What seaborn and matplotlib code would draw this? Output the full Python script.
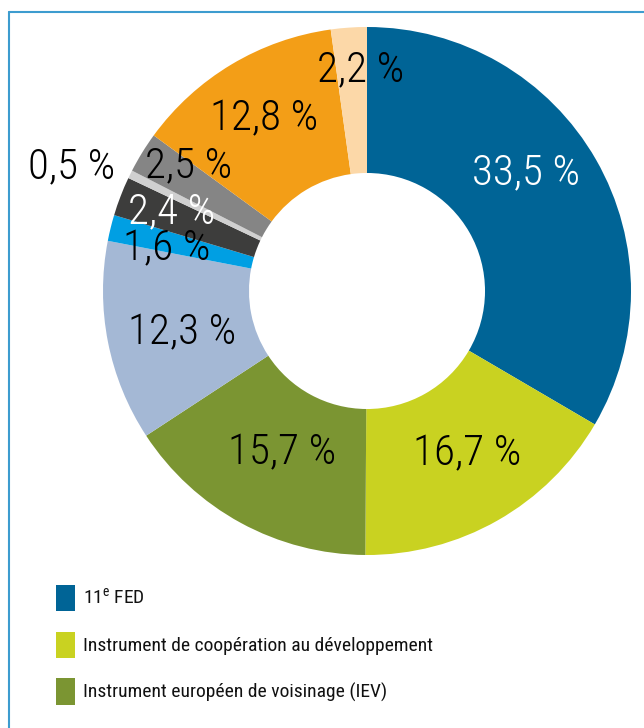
import matplotlib
matplotlib.use("Agg")
import matplotlib.pyplot as plt
from matplotlib.lines import Line2D
import numpy as np
import seaborn as sns

# Shares of the aid envelope (%), clockwise from 12 o'clock
categories = [
    "11e FED",
    "Instrument de coopération au développement",
    "Instrument européen de voisinage (IEV)",
    "Instrument d'aide de préadhésion",
    "Instrument de stabilité",
    "Aide humanitaire",
    "Démocratie et droits de l'homme",
    "Autres instruments",
    "Programmes thématiques",
    "Autres",
]
values = [33.5, 16.7, 15.7, 12.3, 1.6, 2.4, 0.5, 2.5, 12.8, 2.2]
value_labels = ["33,5 %", "16,7 %", "15,7 %", "12,3 %", "1,6 %",
                "2,4 %", "0,5 %", "2,5 %", "12,8 %", "2,2 %"]
legend_labels = ["11$^{\\mathregular{e}}$ FED",
                 "Instrument de coopération au développement",
                 "Instrument européen de voisinage (IEV)"]

colors = ["#006496", "#c9d221", "#7b9532", "#a4b8d5", "#009fe3",
          "#3d3d3c", "#d0d0d0", "#858585", "#f39e17", "#fcd8a8"]
label_colors = ["white", "black", "black", "black", "black",
                "white", "black", "black", "black", "black"]
# label placement: radius (fraction of outer radius) and angular nudge (deg)
label_radius = [0.75, 0.724, 0.69, 0.717, 0.776, 0.80, 1.213, 0.826, 0.758, 0.837]
label_nudge = [6.9, 2.0, 0.9, 1.6, 2.0, -1.1, 3.4, -3.4, 0.0, -2.4]

sns.set_theme(style="white")
plt.rcParams["font.family"] = ["Roboto Condensed", "DejaVu Sans"]

W, H = 644, 728
fig = plt.figure(figsize=(W / 100, H / 100), dpi=100)
fig.patch.set_facecolor("white")

# pie occupies a square region: centre (367, 291) px, radius 264 px
cx, cy, R = 367, 291, 264
ax = fig.add_axes([(cx - R) / W, (H - cy - R) / H, 2 * R / W, 2 * R / H])
wedges, _ = ax.pie(values, colors=colors, startangle=90, counterclock=False,
                   radius=1.0, wedgeprops=dict(width=0.553, linewidth=0))
ax.set_xlim(-1, 1)
ax.set_ylim(-1, 1)
ax.set_aspect("auto")
ax.axis("off")

# value labels around the mid-angle of each wedge
total = sum(values)
cum = np.cumsum([0] + values[:-1])
for v, c0, txt, col, r, dn in zip(values, cum, value_labels, label_colors,
                                   label_radius, label_nudge):
    ang = np.deg2rad(90 - 360 * (c0 + v / 2) / total + dn)
    ax.text(r * np.cos(ang), r * np.sin(ang), txt, ha="center", va="center",
            fontsize=31, color=col, fontweight="light", clip_on=False)

# legend for the three main instruments
leg = fig.legend(wedges[:3], legend_labels, loc="upper left",
                 bbox_to_anchor=(56 / W, 1 - 585 / H), frameon=False,
                 prop=dict(family=["Roboto Condensed", "DejaVu Sans"], size=14),
                 handlelength=0.98, handleheight=1.7, borderpad=0,
                 handletextpad=0.42, labelspacing=1.05, borderaxespad=0)
for t in leg.get_texts():
    t.set_color("#111111")

# box frame (top and left edges visible)
frame_col = "#3d9ccf"
fig.add_artist(Line2D([9 / W, 1.0], [1 - 12 / H, 1 - 12 / H], color=frame_col,
                      lw=1.5, transform=fig.transFigure))
fig.add_artist(Line2D([9 / W, 9 / W], [0.0, 1 - 12 / H], color=frame_col,
                      lw=1.5, transform=fig.transFigure))

fig.savefig("out.png", dpi=100, facecolor="white")
